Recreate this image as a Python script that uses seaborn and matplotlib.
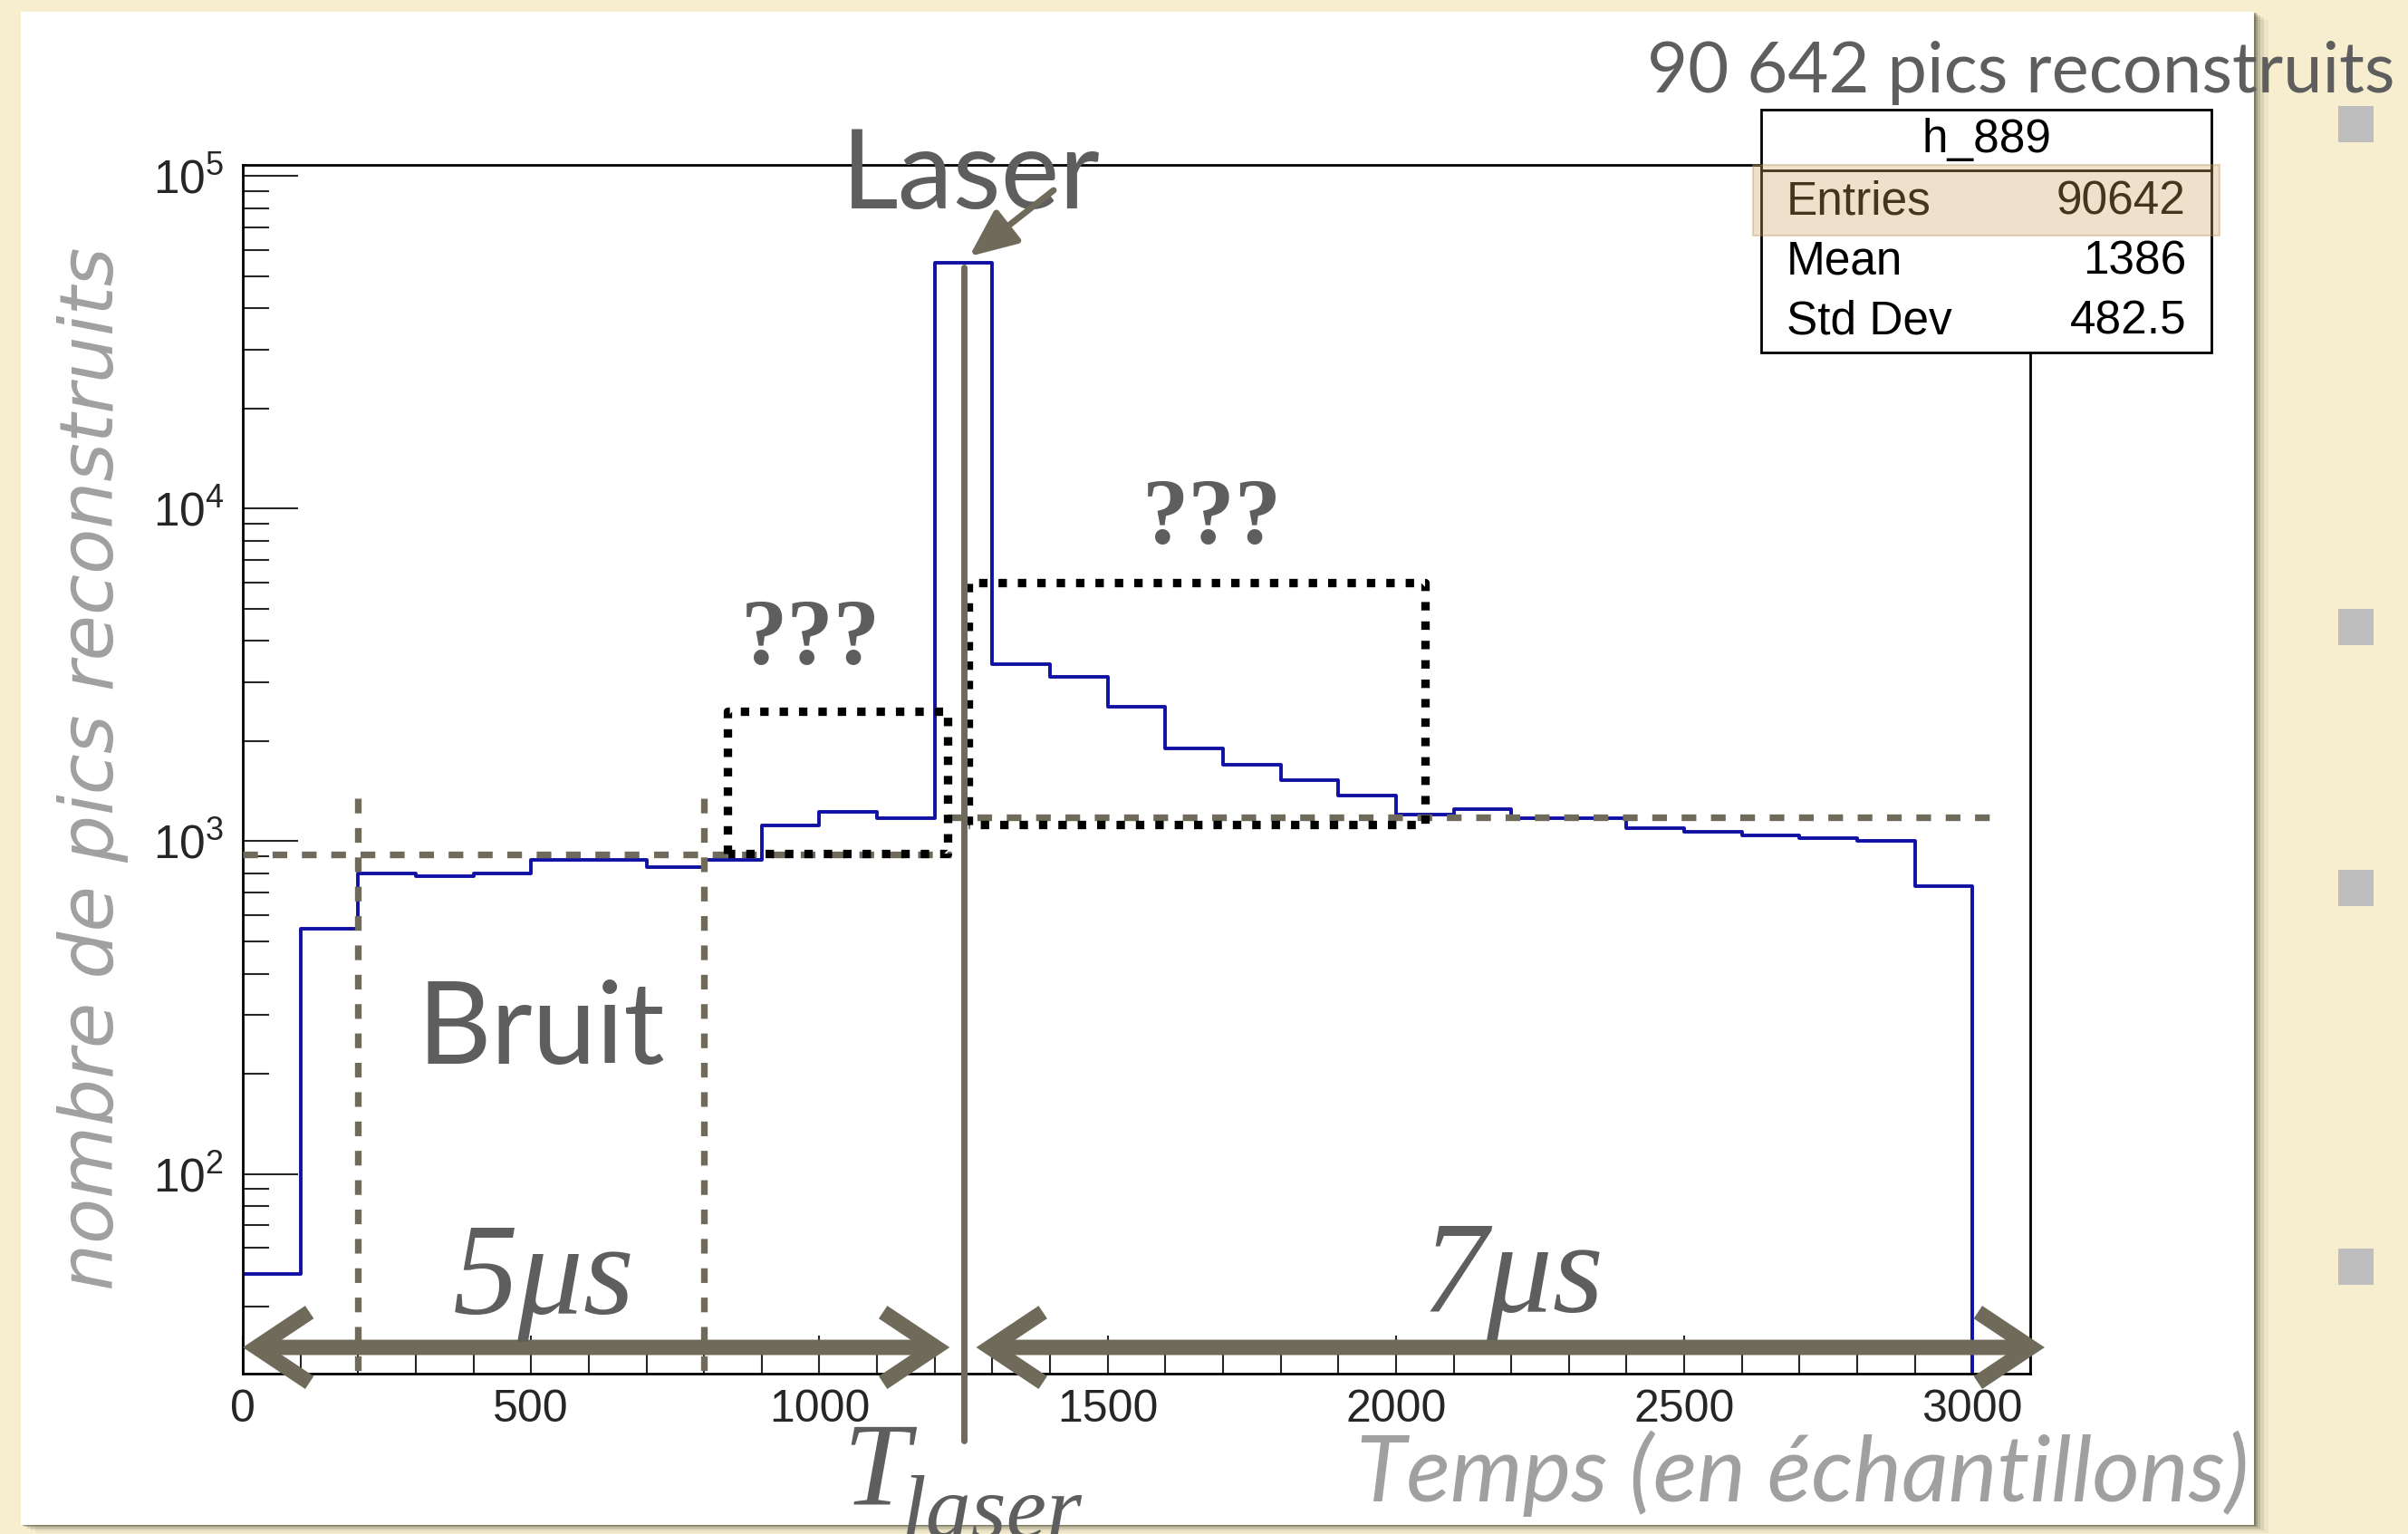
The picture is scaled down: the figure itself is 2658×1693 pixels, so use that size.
import numpy as np
import matplotlib
matplotlib.use("Agg")
import matplotlib.pyplot as plt
from matplotlib.patches import Rectangle, FancyArrowPatch, ArrowStyle
from matplotlib.ticker import LogLocator, NullFormatter, MultipleLocator, FixedLocator
import seaborn as sns

# ---------------- data ----------------
bin_edges = [0, 100, 200, 300, 400, 500, 600, 700, 800, 900, 1000, 1100, 1200, 1300, 1400,
             1500, 1600, 1700, 1800, 1900, 2000, 2100, 2200, 2300, 2400, 2500, 2600, 2700,
             2800, 2900, 3000, 3100]
counts = [50, 547, 801, 786, 801, 878, 878, 838, 879, 1119, 1227, 1172, 55000, 3404, 3119,
          2542, 1904, 1703, 1528, 1371, 1202, 1253, 1176, 1176, 1098, 1067, 1044, 1021,
          1000, 735, 0]
x_ticks = [0, 500, 1000, 1500, 2000, 2500, 3000]
y_ticks = [1e2, 1e3, 1e4, 1e5]
y_ticklabels = [r"$\mathregular{10^{2}}$", r"$\mathregular{10^{3}}$",
                r"$\mathregular{10^{4}}$", r"$\mathregular{10^{5}}$"]
stats_labels = ["Entries", "Mean", "Std Dev"]
stats_values = ["90642", "1386", "482.5"]
hist_name = "h_889"

# annotation geometry (data units)
t_laser = 1250
noise_level = 915
after_level = 1179
noise_window = [200, 800]
box_pre = [840, 1222, 921, 2463]      # x0, x1, y0, y1
box_post = [1258, 2051, 1124, 6012]

W, H = 2658, 1693
OLIVE = "#6F6A59"
GRAY_TXT = "#5E5E5E"
LIGHT_TXT = "#A0A0A0"

sns.set_style("white")
plt.rcParams["font.family"] = ["Liberation Sans", "DejaVu Sans"]

fig = plt.figure(figsize=(W / 100, H / 100), dpi=100, facecolor="#F6EECF")


def P(x, y):
    return (x / W, 1 - y / H)


# panel shadow + white panel
for off, a in [(3, 0.40), (7, 0.28), (12, 0.18), (18, 0.11), (26, 0.06)]:
    fig.add_artist(Rectangle(P(23 + off * 0.6, 1683 + off * 0.35), (2465) / W, 1670 / H,
                             transform=fig.transFigure, facecolor="#4E4A36", alpha=a,
                             edgecolor="none", zorder=-20))
fig.add_artist(Rectangle(P(23, 1683), 2465 / W, 1670 / H, transform=fig.transFigure,
                         facecolor="white", edgecolor="none", zorder=-10))

# bullets on the right
for yc in [137, 692, 980, 1398]:
    fig.add_artist(Rectangle(P(2581, yc + 20), 39 / W, 40 / H, transform=fig.transFigure,
                             facecolor="#BEBEBE", edgecolor="none", zorder=-5))

# ---------------- axes ----------------
ax = fig.add_axes([268 / W, 1 - 1516 / H, 1973 / W, 1334 / H])
ax.set_facecolor("none")

centers = [(a + b) / 2 for a, b in zip(bin_edges[:-1], bin_edges[1:])]
sns.histplot(x=centers, weights=counts, bins=bin_edges, element="step", fill=False,
             color="#1010A4", linewidth=2.8, ax=ax)
ax.set_yscale("log")
ax.set_xlim(0, 3100)
ax.set_ylim(25.1, 1.08e5)
ax.set_xlabel("")
ax.set_ylabel("")

for s in ax.spines.values():
    s.set_linewidth(2.0)
    s.set_color("black")
    s.set_zorder(2.5)

ax.xaxis.set_major_locator(FixedLocator(x_ticks))
ax.xaxis.set_minor_locator(MultipleLocator(100))
ax.set_yticks(y_ticks)
ax.set_yticklabels(y_ticklabels)
ax.yaxis.set_minor_locator(LogLocator(base=10, subs=range(2, 10)))
ax.yaxis.set_minor_formatter(NullFormatter())
ax.tick_params(axis="x", which="major", direction="in", length=30, width=1.5, pad=12,
               labelsize=36, top=False, bottom=True)
ax.tick_params(axis="x", which="minor", direction="in", length=15, width=1.5,
               top=False, bottom=True)
ax.tick_params(axis="y", which="major", direction="in", length=44, width=1.5, pad=15,
               labelsize=37, left=True, right=False)
ax.tick_params(axis="y", which="minor", direction="in", length=21, width=1.5,
               left=True, right=False)
for lab in ax.get_xticklabels() + ax.get_yticklabels():
    lab.set_fontfamily("Liberation Sans")

# dashed reference lines
dash_kw = dict(color=OLIVE, lw=5.3, linestyle=(0, (2.2, 2.2)), dash_capstyle="butt",
               solid_capstyle="butt", zorder=3)
ax.plot([0, 1228], [noise_level, noise_level], **dash_kw)
ax.plot([1222, 3040], [after_level, after_level], clip_on=False, **dash_kw)
for xv in noise_window:
    ax.plot([xv, xv], [1348, 25.1], **dash_kw)

# dotted boxes
dot_kw = dict(color="black", lw=6.7, linestyle=(0, (1.0, 1.3)), dash_capstyle="butt", zorder=4)
for x0, x1, y0, y1 in [box_pre, box_post]:
    ax.plot([x0, x0, x1, x1, x0], [y0, y1, y1, y0, y0], **dot_kw)

# laser time line
ax.plot([t_laser, t_laser], [53200, 15.8], color=OLIVE, lw=5.0, clip_on=False, zorder=5)

# double arrows
for xa, xb in [(0, 1226), (1272, 3125)]:
    arr = FancyArrowPatch((xa, 30.1), (xb, 30.1),
                          arrowstyle=ArrowStyle("<->", head_length=0.42, head_width=0.28),
                          mutation_scale=100, lw=12.2, color=OLIVE, shrinkA=0, shrinkB=0,
                          clip_on=False, zorder=6, capstyle="butt", joinstyle="miter")
    ax.add_patch(arr)

# ---------------- texts ----------------
fig.text(*P(2644, 102), "90 642 pics reconstruits", ha="right", va="baseline",
         fontsize=56, color=GRAY_TXT, family=["Lato", "DejaVu Sans"], zorder=8)
fig.text(*P(929, 230), "Laser", ha="left", va="baseline", fontsize=88, color=GRAY_TXT,
         family=["Lato", "DejaVu Sans"], zorder=8)
fig.text(*P(461, 1174), "Bruit", ha="left", va="baseline", fontsize=91, color=GRAY_TXT,
         family=["Lato", "DejaVu Sans"], zorder=8)
fig.text(*P(818, 733), "???", ha="left", va="baseline", fontsize=74, color=GRAY_TXT,
         family=["Liberation Serif"], weight="bold", zorder=8)
fig.text(*P(1261, 600), "???", ha="left", va="baseline", fontsize=74, color=GRAY_TXT,
         family=["Liberation Serif"], weight="bold", zorder=8)
fig.text(*P(500, 1450), "5μs", ha="left", va="baseline", fontsize=104, color=GRAY_TXT,
         family=["Liberation Serif"], style="italic", zorder=8)
fig.text(*P(1570, 1448), "7μs", ha="left", va="baseline", fontsize=104, color=GRAY_TXT,
         family=["Liberation Serif"], style="italic", zorder=8)
fig.text(*P(930, 1660), "T", ha="left", va="baseline", fontsize=95, color=GRAY_TXT,
         family=["Liberation Serif"], style="italic", zorder=8)
fig.text(*P(995, 1697), "laser", ha="left", va="baseline", fontsize=72, color=GRAY_TXT,
         family=["Liberation Serif"], style="italic", zorder=8)
fig.text(*P(2482, 1657), "Temps (en échantillons)", ha="right", va="baseline",
         fontsize=73, color=LIGHT_TXT, family=["Lato", "DejaVu Sans"], style="italic",
         zorder=8)
fig.text(*P(103, 848), "nombre de pics reconstruits", ha="center", va="center",
         rotation=90, fontsize=59, color=LIGHT_TXT, family=["DejaVu Sans"],
         style="oblique", zorder=8)

# laser arrow
fig.add_artist(FancyArrowPatch(P(1163, 210), P(1070, 283), transform=fig.transFigure,
                               arrowstyle=ArrowStyle("-|>", head_length=0.32, head_width=0.14),
                               mutation_scale=100, lw=5, color=OLIVE, shrinkA=0, shrinkB=0,
                               zorder=9))

# ---------------- stats box ----------------
bx0, bx1, by0, by1, bsep = 1944, 2441, 121, 389, 188
fig.add_artist(Rectangle(P(bx0, by1), (bx1 - bx0) / W, (by1 - by0) / H,
                         transform=fig.transFigure, facecolor="white", edgecolor="black",
                         lw=2.0, zorder=10))
fig.add_artist(plt.Line2D([bx0 / W, bx1 / W], [1 - bsep / H] * 2, transform=fig.transFigure,
                          color="black", lw=2.0, zorder=11))
fig.text(*P((bx0 + bx1) / 2, 155), hist_name, ha="center", va="center", fontsize=37,
         color="black", family=["Liberation Sans"], zorder=12)
for i, (lab, val) in enumerate(zip(stats_labels, stats_values)):
    yc = [223, 289, 355][i]
    fig.text(*P(1972, yc), lab, ha="left", va="center", fontsize=37, color="black",
             family=["Liberation Sans"], zorder=12)
    fig.text(*P(2413, yc), val, ha="right", va="center", fontsize=37, color="black",
             family=["Liberation Sans"], zorder=12)
fig.add_artist(Rectangle(P(1935, 260), (2450 - 1935) / W, (260 - 182) / H,
                         transform=fig.transFigure, facecolor=(0.82, 0.64, 0.38),
                         alpha=0.33, edgecolor=(0.7, 0.55, 0.3), lw=1.5, zorder=13))

fig.savefig("out.png", dpi=100, facecolor=fig.get_facecolor())
